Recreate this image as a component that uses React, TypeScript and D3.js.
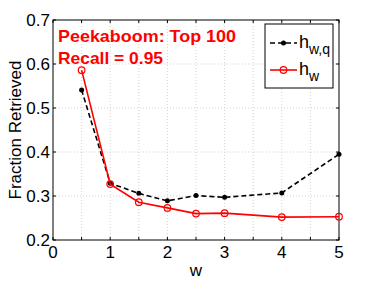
import React, { useRef, useEffect } from 'react';
import * as d3 from 'd3';

// data
const wValues = [0.5, 1, 1.5, 2, 2.5, 3, 4, 5];
const hwqValues = [0.541, 0.329, 0.306, 0.289, 0.301, 0.297, 0.307, 0.395];
const hwValues = [0.586, 0.327, 0.286, 0.273, 0.260, 0.261, 0.252, 0.253];
const xTicks = [0, 0.5, 1, 1.5, 2, 2.5, 3, 3.5, 4, 4.5, 5];
const yTicks = [0.2, 0.3, 0.4, 0.5, 0.6, 0.7];
const titleLines = ['Peekaboom: Top 100', 'Recall = 0.95'];

const W = 374;
const H = 281;
const FONT = 'Liberation Sans, Arial, sans-serif';

const App: React.FC = () => {
  const svgRef = useRef<SVGSVGElement>(null);

  useEffect(() => {
    if (!svgRef.current) return;
    const svg = d3.select(svgRef.current);
    svg.selectAll('*').remove();

    const left = 53, right = 339, top = 20, bottom = 240;
    const x = d3.scaleLinear().domain([0, 5]).range([left, right]);
    const y = d3.scaleLinear().domain([0.2, 0.7]).range([bottom, top]);

    svg.append('rect').attr('width', W).attr('height', H).attr('fill', '#fff');

    // grid
    const grid = svg.append('g');
    xTicks.forEach(t => {
      if (t === 0 || t === 5) return;
      grid.append('line')
        .attr('x1', x(t)).attr('x2', x(t)).attr('y1', top).attr('y2', bottom)
        .attr('stroke', '#c8c8c8').attr('stroke-width', 0.8).attr('stroke-dasharray', '1,2');
    });
    yTicks.forEach(t => {
      if (t === 0.2 || t === 0.7) return;
      grid.append('line')
        .attr('x1', left).attr('x2', right).attr('y1', y(t)).attr('y2', y(t))
        .attr('stroke', '#c8c8c8').attr('stroke-width', 0.8).attr('stroke-dasharray', '1,2');
    });

    // axes box and inward ticks
    svg.append('rect')
      .attr('x', left).attr('y', top).attr('width', right - left).attr('height', bottom - top)
      .attr('fill', 'none').attr('stroke', '#000').attr('stroke-width', 1);
    xTicks.forEach(t => {
      svg.append('line').attr('x1', x(t)).attr('x2', x(t)).attr('y1', bottom).attr('y2', bottom - 3).attr('stroke', '#000');
      svg.append('line').attr('x1', x(t)).attr('x2', x(t)).attr('y1', top).attr('y2', top + 3).attr('stroke', '#000');
      if (Number.isInteger(t)) {
        svg.append('text').attr('x', x(t)).attr('y', bottom + 18)
          .attr('text-anchor', 'middle').attr('font-family', FONT).attr('font-size', 17)
          .text(d3.format('d')(t));
      }
    });
    yTicks.forEach(t => {
      svg.append('line').attr('x1', left).attr('x2', left + 3).attr('y1', y(t)).attr('y2', y(t)).attr('stroke', '#000');
      svg.append('line').attr('x1', right).attr('x2', right - 3).attr('y1', y(t)).attr('y2', y(t)).attr('stroke', '#000');
      svg.append('text').attr('x', left - 3).attr('y', y(t) + 6)
        .attr('text-anchor', 'end').attr('font-family', FONT).attr('font-size', 17)
        .text(d3.format('.1f')(t));
    });

    // axis labels
    svg.append('text').attr('x', x(2.5)).attr('y', 276)
      .attr('text-anchor', 'middle').attr('font-family', FONT).attr('font-size', 17).text('w');
    svg.append('text').attr('transform', `translate(21,${(top + bottom) / 2}) rotate(-90)`)
      .attr('text-anchor', 'middle').attr('font-family', FONT).attr('font-size', 17).text('Fraction Retrieved');

    const line = d3.line<number>().x((_, i) => x(wValues[i])).y(d => y(d));

    // h_w,q black dashed
    svg.append('path').attr('d', line(hwqValues))
      .attr('fill', 'none').attr('stroke', '#000').attr('stroke-width', 1.6).attr('stroke-dasharray', '5,3');
    hwqValues.forEach((v, i) => {
      svg.append('circle').attr('cx', x(wValues[i])).attr('cy', y(v)).attr('r', 2.5).attr('fill', '#000');
    });

    // h_w red solid with open circles
    svg.append('path').attr('d', line(hwValues))
      .attr('fill', 'none').attr('stroke', '#ff0000').attr('stroke-width', 1.6);
    hwValues.forEach((v, i) => {
      svg.append('circle').attr('cx', x(wValues[i])).attr('cy', y(v)).attr('r', 3.3)
        .attr('fill', 'none').attr('stroke', '#ff0000').attr('stroke-width', 1.2);
    });

    // title text
    const titleWidths = [178, 105];
    titleLines.forEach((t, i) => {
      svg.append('text').attr('x', 58).attr('y', 42 + i * 22)
        .attr('font-family', FONT).attr('font-weight', 'bold').attr('font-size', 16.5)
        .attr('textLength', titleWidths[i]).attr('lengthAdjust', 'spacingAndGlyphs')
        .attr('fill', '#ff0000').text(t);
    });

    // legend
    const lg = svg.append('g');
    lg.append('rect').attr('x', 265).attr('y', 24).attr('width', 68).attr('height', 64)
      .attr('fill', '#fff').attr('stroke', '#000').attr('stroke-width', 1);
    lg.append('line').attr('x1', 270).attr('x2', 297).attr('y1', 43).attr('y2', 43)
      .attr('stroke', '#000').attr('stroke-width', 1.6).attr('stroke-dasharray', '5,3');
    lg.append('circle').attr('cx', 283.5).attr('cy', 43).attr('r', 2.5).attr('fill', '#000');
    lg.append('line').attr('x1', 270).attr('x2', 297).attr('y1', 70).attr('y2', 70)
      .attr('stroke', '#ff0000').attr('stroke-width', 1.6);
    lg.append('circle').attr('cx', 283.5).attr('cy', 70).attr('r', 3.3)
      .attr('fill', 'none').attr('stroke', '#ff0000').attr('stroke-width', 1.2);

    const t1 = lg.append('text').attr('x', 299).attr('y', 48).attr('font-family', FONT).attr('font-size', 18);
    t1.append('tspan').text('h');
    t1.append('tspan').attr('font-size', 14).attr('dy', 6).text('w,q');
    const t2 = lg.append('text').attr('x', 299).attr('y', 75).attr('font-family', FONT).attr('font-size', 18);
    t2.append('tspan').text('h');
    t2.append('tspan').attr('font-size', 14).attr('dy', 6).text('w');
  }, []);

  return (
    <svg ref={svgRef} width={W} height={H}
      style={{ position: 'absolute', left: 0, top: 0, display: 'block' }} />
  );
};

export default App;
